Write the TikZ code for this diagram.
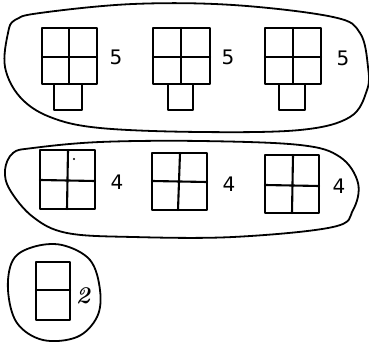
\documentclass[tikz,border=0pt]{standalone}
\usepackage{fontspec}
\newfontfamily\hand{DejaVu Sans}
\begin{document}
\begin{tikzpicture}[x=1pt,y=-1pt,
  blob/.style={line width=1.8pt,line join=round},
  grid/.style={line width=2.1pt,line join=round,line cap=round},
  num/.style={font=\hand\fontsize{20}{20}\selectfont,inner sep=0pt}]
\useasboundingbox (0,0) rectangle (369,344);
% blob 1
\draw[blob] plot[smooth cycle,tension=0.6] coordinates {(8,33) (15,20) (40,13) (133,4) (233,5) (333,17) (360,33) (368,67) (367,90) (350,117) (300,130) (200,132) (100,128) (50,117) (20,97) (5,67)};
% blob 2
\draw[blob] plot[smooth cycle,tension=0.6] coordinates {(13,153) (33,148) (100,142) (200,141) (300,145) (340,157) (358,183) (353,210) (333,227) (233,237) (133,237) (67,233) (33,217) (10,190) (5,170)};
% blob 3
\draw[blob] plot[smooth cycle,tension=0.6] coordinates {(13,260) (33,247) (62,245) (90,260) (100,290) (97,317) (77,337) (43,340) (17,323) (8,290)};
% row 1 grids
\foreach \xa/\xb/\xm/\sa/\sb in {42/97/69/54/82, 153/210/181/168/193, 265/321/293/279/305}{
  \draw[grid] (\xa,28) rectangle (\xb,84);
  \draw[grid] (\xm,28) -- (\xm,84);
  \draw[grid] (\xa,57) -- (\xb,57);
  \draw[grid] (\sa,84) rectangle (\sb,110);
}
\node[num] (f1) at (116,57) {5};
\node[num] (f2) at (228,57) {5};
\node[num] (f3) at (343,58) {5};
% row 2 grids
\draw[grid] (40,150) rectangle (95,209);
\draw[grid] (68,150) -- (67,209);
\draw[grid] (40,180) -- (95,181);
\fill (74,159) circle (1.2pt);
\draw[grid] (152,153) rectangle (207,210);
\draw[grid] (180,153) -- (178,210);
\draw[grid] (152,181) -- (207,182);
\draw[grid] (265,155) rectangle (319,213);
\draw[grid] (293,155) -- (292,213);
\draw[grid] (265,185) -- (319,186);
\node[num] (g1) at (117,182) {4};
\node[num] (g2) at (229,184) {4};
\node[num] (g3) at (339,186) {4};
% row 3
\draw[grid] (36,262) rectangle (70,320);
\draw[grid] (36,290) -- (70,290);
\node[font=\bfseries\itshape\fontsize{24}{24}\selectfont,inner sep=0pt] (h1) at (83,296) {2};
\end{tikzpicture}
\end{document}
